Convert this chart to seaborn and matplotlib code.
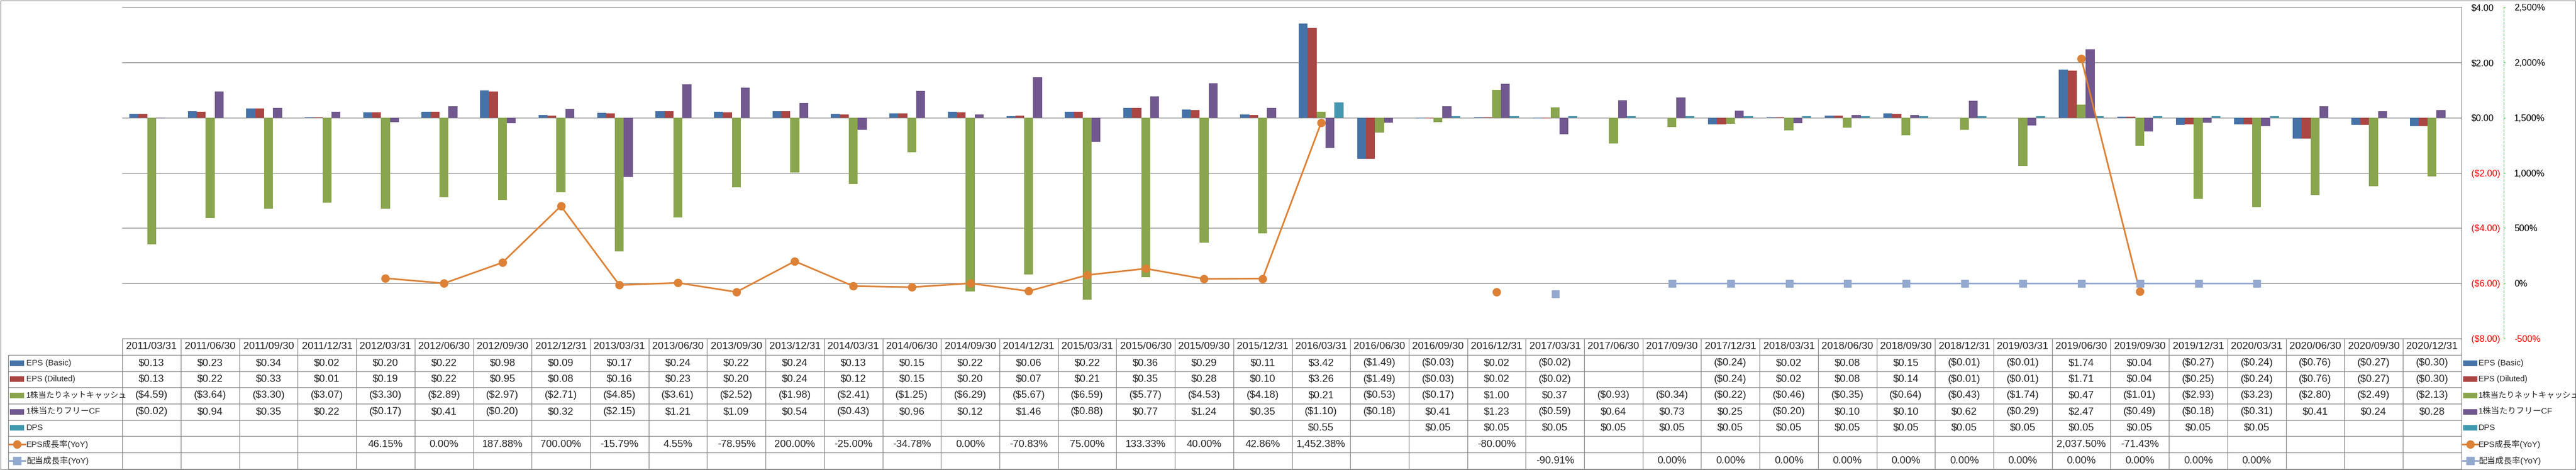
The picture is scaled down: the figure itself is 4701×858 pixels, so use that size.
import numpy as np
import pandas as pd
import matplotlib
matplotlib.use("Agg")
import matplotlib.pyplot as plt
import seaborn as sns
from matplotlib.transforms import blended_transform_factory
from matplotlib.patches import Rectangle
from matplotlib.lines import Line2D

nan = np.nan

periods = [
    "2011/03/31", "2011/06/30", "2011/09/30", "2011/12/31",
    "2012/03/31", "2012/06/30", "2012/09/30", "2012/12/31",
    "2013/03/31", "2013/06/30", "2013/09/30", "2013/12/31",
    "2014/03/31", "2014/06/30", "2014/09/30", "2014/12/31",
    "2015/03/31", "2015/06/30", "2015/09/30", "2015/12/31",
    "2016/03/31", "2016/06/30", "2016/09/30", "2016/12/31",
    "2017/03/31", "2017/06/30", "2017/09/30", "2017/12/31",
    "2018/03/31", "2018/06/30", "2018/09/30", "2018/12/31",
    "2019/03/31", "2019/06/30", "2019/09/30", "2019/12/31",
    "2020/03/31", "2020/06/30", "2020/09/30", "2020/12/31",
]

eps_basic = [0.13, 0.23, 0.34, 0.02, 0.20, 0.22, 0.98, 0.09, 0.17, 0.24,
             0.22, 0.24, 0.13, 0.15, 0.22, 0.06, 0.22, 0.36, 0.29, 0.11,
             3.42, -1.49, -0.03, 0.02, -0.02, nan, nan, -0.24, 0.02, 0.08,
             0.15, -0.01, -0.01, 1.74, 0.04, -0.27, -0.24, -0.76, -0.27, -0.30]

eps_diluted = [0.13, 0.22, 0.33, 0.01, 0.19, 0.22, 0.95, 0.08, 0.16, 0.23,
               0.20, 0.24, 0.12, 0.15, 0.20, 0.07, 0.21, 0.35, 0.28, 0.10,
               3.26, -1.49, -0.03, 0.02, -0.02, nan, nan, -0.24, 0.02, 0.08,
               0.14, -0.01, -0.01, 1.71, 0.04, -0.25, -0.24, -0.76, -0.27, -0.30]

net_cash = [-4.59, -3.64, -3.30, -3.07, -3.30, -2.89, -2.97, -2.71, -4.85, -3.61,
            -2.52, -1.98, -2.41, -1.25, -6.29, -5.67, -6.59, -5.77, -4.53, -4.18,
            0.21, -0.53, -0.17, 1.00, 0.37, -0.93, -0.34, -0.22, -0.46, -0.35,
            -0.64, -0.43, -1.74, 0.47, -1.01, -2.93, -3.23, -2.80, -2.49, -2.13]

free_cf = [-0.02, 0.94, 0.35, 0.22, -0.17, 0.41, -0.20, 0.32, -2.15, 1.21,
           1.09, 0.54, -0.43, 0.96, 0.12, 1.46, -0.88, 0.77, 1.24, 0.35,
           -1.10, -0.18, 0.41, 1.23, -0.59, 0.64, 0.73, 0.25, -0.20, 0.10,
           0.10, 0.62, -0.29, 2.47, -0.49, -0.18, -0.31, 0.41, 0.24, 0.28]

dps = [nan, nan, nan, nan, nan, nan, nan, nan, nan, nan,
       nan, nan, nan, nan, nan, nan, nan, nan, nan, nan,
       0.55, nan, 0.05, 0.05, 0.05, 0.05, 0.05, 0.05, 0.05, 0.05,
       0.05, 0.05, 0.05, 0.05, 0.05, 0.05, 0.05, nan, nan, nan]

eps_growth = [nan, nan, nan, nan, 46.15, 0.00, 187.88, 700.00, -15.79, 4.55,
              -78.95, 200.00, -25.00, -34.78, 0.00, -70.83, 75.00, 133.33, 40.00, 42.86,
              1452.38, nan, nan, -80.00, nan, nan, nan, nan, nan, nan,
              nan, nan, nan, 2037.50, -71.43, nan, nan, nan, nan, nan]

div_growth = [nan, nan, nan, nan, nan, nan, nan, nan, nan, nan,
              nan, nan, nan, nan, nan, nan, nan, nan, nan, nan,
              nan, nan, nan, nan, -90.91, nan, 0.00, 0.00, 0.00, 0.00,
              0.00, 0.00, 0.00, 0.00, 0.00, 0.00, 0.00, nan, nan, nan]

bar_names = ["EPS (Basic)", "EPS (Diluted)", "1株当たりネットキャッシュ", "1株当たりフリーCF", "DPS"]
line_names = ["EPS成長率(YoY)", "配当成長率(YoY)"]
bar_colors = ["#4572A7", "#AA4643", "#89A54E", "#71588F", "#4198AF"]
orange = "#DD8136"
light_blue = "#93A9CF"
grid_gray = "#888888"

money_ticks = [-8, -6, -4, -2, 0, 2, 4]
pct_ticks = [-500, 0, 500, 1000, 1500, 2000, 2500]


def fmt_money(v):
    if np.isnan(v):
        return ""
    if v < 0:
        return f"(${-v:,.2f})"
    return f"${v:,.2f}"


def fmt_pct(v):
    if np.isnan(v):
        return ""
    return f"{v:,.2f}%"


sns.set_style("white")
plt.rcParams["font.family"] = ["Liberation Sans", "Noto Sans CJK JP"]

W, H = 4701, 858
DPI = 100
PT = 72 / DPI

fig = plt.figure(figsize=(W / DPI, H / DPI), dpi=DPI)

x0, x1, y0, y1 = 223.3, 4491.7, 13.3, 618.0
ax = fig.add_axes([x0 / W, 1 - y1 / H, (x1 - x0) / W, (y1 - y0) / H])

bar_series = [eps_basic, eps_diluted, net_cash, free_cf, dps]
rows = []
for name, vals in zip(bar_names, bar_series):
    for p, v in zip(periods, vals):
        rows.append({"period": p, "series": name, "value": v})
df = pd.DataFrame(rows).dropna()

sns.barplot(data=df, x="period", y="value", hue="series", order=periods,
            hue_order=bar_names, palette=bar_colors, width=0.764, gap=0,
            saturation=1, errorbar=None, legend=False, linewidth=0, ax=ax)

ax.set_xlim(-0.5, len(periods) - 0.5)
ax.set_ylim(-8, 4)
ax.set_xlabel("")
ax.set_ylabel("")
ax.tick_params(axis="x", length=0, labelbottom=False)
ax.grid(axis="y", color=grid_gray, lw=1.3 * PT)
ax.grid(axis="x", visible=False)
ax.set_axisbelow(True)
for s in ["top", "left", "bottom"]:
    ax.spines[s].set_visible(False)
ax.spines["right"].set_color(grid_gray)
ax.spines["right"].set_linewidth(1.3 * PT)

ax2 = ax.twinx()
ax.yaxis.tick_right()
ax.set_yticks(money_ticks, labels=[fmt_money(v) for v in money_ticks])
ax.tick_params(axis="y", length=0, pad=18 * PT, labelsize=12)
for lab, v in zip(ax.get_yticklabels(), money_ticks):
    lab.set_color("#FF0000" if v < 0 else "black")

xs = np.arange(len(periods))
ax2.plot(xs, eps_growth, color=orange, lw=3 * PT, marker="o", ms=14 * PT * 1.0,
         mfc=orange, mec=orange, solid_capstyle="round")
ax2.plot(xs, div_growth, color=light_blue, lw=3 * PT, marker="s", ms=13 * PT,
         mfc=light_blue, mec=light_blue)
ax2.set_ylim(-500, 2500)
ax2.set_yticks(pct_ticks, labels=[f"{v:,}%" for v in pct_ticks])
for s in ["top", "left", "bottom"]:
    ax2.spines[s].set_visible(False)
ax2.spines["right"].set_position(("outward", 77.3 * PT))
ax2.spines["right"].set_color("#22DD22")
ax2.spines["right"].set_linestyle((0, (4, 3)))
ax2.spines["right"].set_linewidth(1.0 * PT)
ax2.tick_params(axis="y", direction="out", length=3.3 * PT, width=1.0 * PT,
                color="#22DD22", pad=15.7 * PT, labelsize=12)
for lab, v in zip(ax2.get_yticklabels(), pct_ticks):
    lab.set_color("#FF0000" if v < 0 else "black")
ax2.set_xlim(ax.get_xlim())

# overlay in pixel coordinates for the data table and frame
ov = fig.add_axes([0, 0, 1, 1])
ov.set_xlim(0, W)
ov.set_ylim(H, 0)
ov.axis("off")
col = blended_transform_factory(ax.transData, ov.transData)

row_edges = [617.5, 648.0, 677.5, 707.0, 736.5, 766.5, 796.0, 826.0, 856.0]
row_mid = [(a + b) / 2 for a, b in zip(row_edges[:-1], row_edges[1:])]

ov.add_patch(Rectangle((0.5, 0.5), W - 1.5, H - 1.5, fill=False,
                       edgecolor=grid_gray, lw=1.3 * PT))
lw_t = 1.3 * PT
ov.plot([-0.5, len(periods) - 0.5], [row_edges[0]] * 2, transform=col,
        color=grid_gray, lw=lw_t)
for ye in row_edges[1:]:
    ov.plot([15, x1], [ye, ye], color=grid_gray, lw=lw_t)
for i in range(len(periods) + 1):
    ov.plot([i - 0.5, i - 0.5], [row_edges[0], row_edges[-1]], transform=col,
            color=grid_gray, lw=lw_t)
ov.plot([15, 15], [row_edges[1], row_edges[-1]], color=grid_gray, lw=lw_t)

for i, p in enumerate(periods):
    ov.text(i, row_mid[0], p, transform=col, ha="center", va="center", fontsize=13.5)

table_rows = [
    [fmt_money(v) for v in eps_basic],
    [fmt_money(v) for v in eps_diluted],
    [fmt_money(v) for v in net_cash],
    [fmt_money(v) for v in free_cf],
    [fmt_money(v) for v in dps],
    [fmt_pct(v) for v in eps_growth],
    [fmt_pct(v) for v in div_growth],
]
for r, labels in enumerate(table_rows):
    for i, t in enumerate(labels):
        if t:
            ov.text(i, row_mid[r + 1], t, transform=col, ha="center",
                    va="center", fontsize=13.5)

# row headers (left) and legend (right)
all_names = bar_names + line_names
for kx, tx in [(18, 48), (4495, 4523)]:
    for r, name in enumerate(all_names):
        yc = row_mid[r + 1]
        fs = 10.5 if len(name) > 12 else 11
        if r < len(bar_names):
            ov.add_patch(Rectangle((kx, yc - 5), 26, 10, color=bar_colors[r], lw=0))
        else:
            c = orange if r == 5 else light_blue
            mk = "o" if r == 5 else "s"
            ov.add_line(Line2D([kx - 2, kx + 28], [yc, yc], color=c, lw=3 * PT))
            ov.add_line(Line2D([kx + 13], [yc], color=c, marker=mk,
                               ms=14 * PT, mec=c, mfc=c))
        ov.text(tx, yc, name, ha="left", va="center", fontsize=fs)

fig.savefig("out.png", dpi=DPI)
